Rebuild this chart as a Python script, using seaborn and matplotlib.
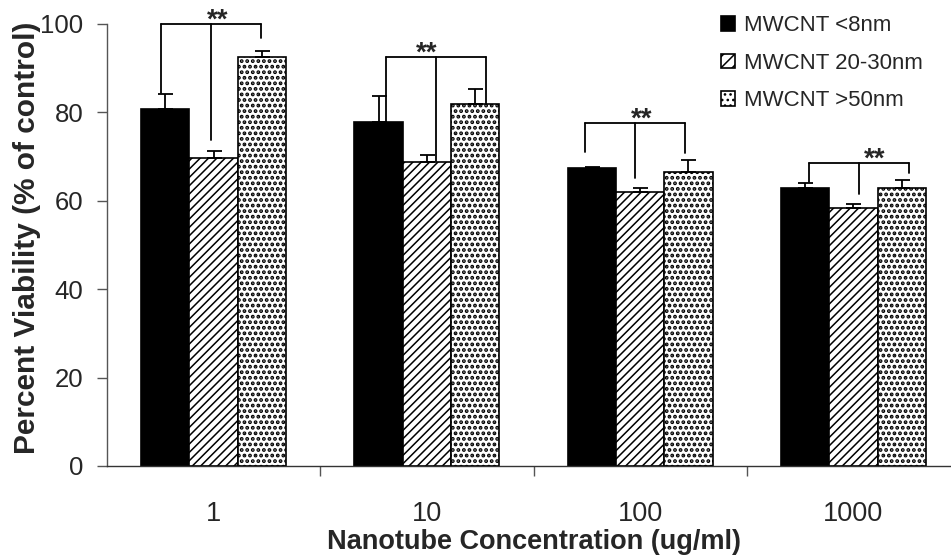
import numpy as np
import pandas as pd
import matplotlib
matplotlib.use("Agg")
import matplotlib.pyplot as plt
import seaborn as sns

# ---------------- data ----------------
concentrations = ["1", "10", "100", "1000"]
series = ["MWCNT <8nm", "MWCNT 20-30nm", "MWCNT >50nm"]
v_small = [80.7, 77.8, 67.5, 63.0]
v_mid = [69.6, 68.7, 62.0, 58.4]
v_large = [92.6, 81.8, 66.5, 62.8]
e_small = [3.4, 5.8, 0.2, 1.0]
e_mid = [1.7, 1.7, 0.9, 0.9]
e_large = [1.4, 3.6, 2.7, 1.9]
bracket_top = [100.0, 92.6, 77.7, 68.6]
bracket_legs = [[84.3, 73.8, 96.9],
                [77.9, 69.1, 82.0],
                [71.1, 65.2, 70.9],
                [64.3, 61.5, 66.2]]
star_label = "**"

# ---------------- style ----------------
sns.set_style("white")
plt.rcParams["font.family"] = ["Liberation Sans", "DejaVu Sans"]
plt.rcParams["hatch.linewidth"] = 1.1

values = [v_small, v_mid, v_large]
errors = [e_small, e_mid, e_large]
rows = []
for s, vals in zip(series, values):
    for c, v in zip(concentrations, vals):
        rows.append({"conc": c, "series": s, "viability": v})
df = pd.DataFrame(rows)

fig = plt.figure(figsize=(9.51, 5.59), dpi=100)
ax = fig.add_axes([0.1125, 0.1664, 0.897, 0.7907])

sns.barplot(data=df, x="conc", y="viability", hue="series",
            order=concentrations, hue_order=series,
            palette=["black", "white", "white"], edgecolor="black",
            linewidth=1.2, width=0.68, errorbar=None, ax=ax, legend=True)

hatches = [None, "////", "..."]
hatch_lw = [1.0, 1.1, 1.9]
for cont, h, hlw, errs in zip(ax.containers, hatches, hatch_lw, errors):
    xs = []
    ys = []
    for bar in cont:
        if h:
            bar.set_hatch(h)
            if hasattr(bar, "set_hatch_linewidth"):
                bar.set_hatch_linewidth(hlw)
        xs.append(bar.get_x() + bar.get_width() / 2)
        ys.append(bar.get_height())
    ax.errorbar(xs, ys, yerr=[np.zeros(len(errs)), errs], fmt="none",
                ecolor="black", elinewidth=1.3, capsize=5.4, capthick=1.3,
                zorder=3)

# significance brackets
shift = [-0.012, 0.043, -0.024, 0.026]
star_dx = [0.03, -0.045, 0.03, 0.075]
half = 0.2345
for g in range(len(concentrations)):
    cx = g + shift[g]
    legx = [cx - half, cx, cx + half]
    top = bracket_top[g]
    ax.plot([legx[0], legx[2]], [top, top], color="black", lw=1.3,
            clip_on=False, zorder=4)
    for lx, lb in zip(legx, bracket_legs[g]):
        ax.plot([lx, lx], [lb, top], color="black", lw=1.3,
                clip_on=False, zorder=4)
    ax.text(cx + star_dx[g], top - 0.9, star_label, ha="center",
            va="baseline", fontsize=20, fontweight="bold", clip_on=False)

ax.set_xlim(-0.5, 3.5)
ax.set_ylim(0, 100)
ax.set_yticks([0, 20, 40, 60, 80, 100])
ax.set_xticks(range(4))
ax.set_xticklabels(concentrations)
ax.set_xticks([0.5, 1.5, 2.5], minor=True)

for sp in ["top", "right"]:
    ax.spines[sp].set_visible(False)
for sp in ["left", "bottom"]:
    ax.spines[sp].set_color("#555555")
    ax.spines[sp].set_linewidth(1.0)
ax.spines["bottom"].set_color("#333333")

ax.tick_params(axis="y", which="major", direction="out", length=7, width=1,
               color="#555555", labelsize=18.5, pad=10, left=True)
ax.tick_params(axis="x", which="major", length=0, labelsize=19.5, pad=25)
ax.tick_params(axis="x", which="minor", direction="out", length=7, width=1,
               color="#555555", bottom=True)

ax.set_xlabel("Nanotube Concentration (ug/ml)", fontsize=19.5,
              fontweight="bold", labelpad=2)
ax.set_ylabel("Percent Viability (% of control)", fontsize=21.5,
              fontweight="bold")
ax.yaxis.set_label_coords(-0.0774, 0.516)

leg = ax.legend(loc="upper left", bbox_to_anchor=(0.742, 1.001),
                bbox_transform=fig.transFigure, frameon=False,
                fontsize=16, handlelength=0.64, handleheight=0.64,
                handletextpad=0.4, labelspacing=0.75, borderpad=0.2)
for hnd, h in zip(leg.legend_handles, [None, "///", "..."]):
    if h:
        hnd.set_hatch(h)
    hnd.set_edgecolor("black")

fig.savefig("out.png", dpi=100)
